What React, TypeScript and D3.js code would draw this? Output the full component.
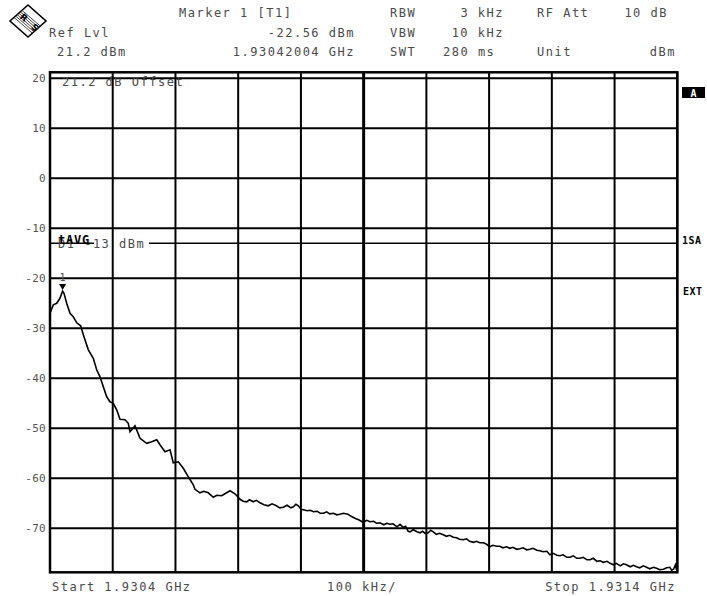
import React from "react";
import * as d3 from "d3";

// ---- data ----
const startGHz = 1.9304;
const stopGHz = 1.9314;
const spanKHz = 1000;
const refLevel = 21.2;
const bottomLevel = -78.8;
const xGridKHz = [0, 100, 200, 300, 400, 500, 600, 700, 800, 900, 1000];
const yTicks = [20, 10, 0, -10, -20, -30, -40, -50, -60, -70];
const displayLine = -13;
const marker = { kHz: 20.04, dbm: -22.56 };

// trace: frequency offset from start (kHz) and level (dBm)
const traceKHz = [
  0, 5.3, 10.7, 15.9, 20.04, 22.3, 26.6, 31.9, 37.1, 42.6, 48.9, 53.1, 61.1, 69.0, 74.4, 79.7,
  85.0, 90.4, 95.6, 100.9, 106.3, 111.6, 119.6, 124.8, 127.5, 135.5, 143.5, 154.1, 162.1, 170.1,
  175.3, 183.3, 191.3, 196.5, 204.5, 212.5, 220.5, 228.4, 231.1, 239.1, 245, 252.3, 260.3, 266,
  273.7, 279.0, 286.9, 294.9, 302.9, 308, 313.6, 318, 324, 329, 334.8, 341, 348, 354, 361, 366,
  372, 378, 384, 388, 392, 396, 400, 404, 410, 415, 420, 426, 431, 436, 441, 446, 452, 457, 462,
  468, 475, 480, 486, 492, 499, 505, 510, 516, 521, 526, 532, 537, 542, 547, 553, 558, 563, 567,
  571, 574, 579, 585, 590, 594, 598, 603, 607, 611, 616, 621, 627, 632, 637, 643, 648, 653, 659,
  664, 669, 675, 680, 685, 691, 696, 701, 706, 712, 717, 722, 728, 733, 738, 744, 749, 754, 760,
  765, 770, 776, 781, 786, 792, 797, 802, 808, 813, 818, 824, 829, 834, 840, 845, 850, 856, 861,
  866, 872, 877, 882, 888, 893, 898, 903, 909, 914, 919, 925, 930, 935, 940, 946, 951, 956, 962,
  967, 972, 978, 983, 988, 991, 994, 997, 999, 1000,
];
const traceDbm = [
  -27.0, -25.3, -25.0, -24.0, -22.56, -23.0, -25.0, -27.0, -27.7, -28.9, -29.5, -31.3, -34.3, -36.0, -38.3, -39.7,
  -41.7, -43.7, -44.7, -45.0, -46.3, -48.2, -48.3, -49.0, -50.7, -49.5, -52.0, -53.0, -52.7, -52.3,
  -53.3, -54.7, -54.3, -56.9, -56.7, -58.0, -59.7, -61.3, -62.2, -62.9, -62.6, -62.9, -63.8, -63.4,
  -63.5, -63.1, -62.5, -63.1, -64.2, -64.6, -64.7, -64.3, -64.7, -64.4, -64.9, -65.3, -65.5, -65.1, -65.5, -65.9,
  -65.8, -65.4, -65.9, -65.7, -65.2, -65.5, -66.2, -66.3, -66.5, -66.4, -66.7, -66.6, -67.0, -67.0, -66.7, -67.1, -67.0, -67.3, -67.2,
  -67.0, -67.2, -67.6, -68.0, -68.3, -68.8, -68.4, -68.7, -68.6, -69.0, -68.9, -69.3, -69.0, -69.2, -69.1, -69.7, -69.2, -69.8, -69.6,
  -70.6, -70.7, -70.3, -70.7, -70.9, -70.6, -71.0, -70.9, -70.4, -70.7, -71.2, -71.0, -71.3, -71.6, -71.4, -71.8, -71.9, -72.2, -72.3,
  -72.1, -72.6, -72.8, -72.6, -72.9, -72.9, -73.2, -73.7, -73.4, -73.6, -73.6, -73.9, -73.7, -74.0, -73.8, -74.2, -74.1, -73.9, -74.3,
  -74.2, -74.0, -74.4, -74.5, -74.7, -74.6, -75.3, -75.0, -75.4, -75.5, -75.3, -75.8, -75.8, -75.5, -76.0, -76.0, -75.8, -76.3, -76.3,
  -76.0, -76.6, -76.5, -76.8, -76.6, -77.0, -77.3, -77.0, -77.5, -77.1, -77.3, -77.7, -77.4, -77.7, -77.9, -77.5, -77.8, -78.1, -77.8,
  -78.0, -78.3, -78.2, -77.9, -77.8, -78.4, -78.2, -77.3, -78.4, -78.3,
];

const mono = "'DejaVu Sans Mono', 'Liberation Mono', monospace";
const txt = "#4a4a4a";

function Label(props: any) {
  const { x, y, children, anchor = "start", size = 12, ls = 1.5, fill = txt, weight = "normal" } = props;
  return (
    <text
      x={x}
      y={y}
      textAnchor={anchor}
      fontFamily={mono}
      fontSize={size}
      letterSpacing={ls}
      fill={fill}
      fontWeight={weight}
    >
      {children}
    </text>
  );
}

export default function App() {
  const x = d3.scaleLinear().domain([0, spanKHz]).range([50, 677.3]);
  const y = d3.scaleLinear().domain([bottomLevel, refLevel]).range([572.3, 72.3]);
  const pts: [number, number][] = traceKHz.map((f, i) => [f, traceDbm[i]]);
  const line = d3
    .line<[number, number]>()
    .x((d) => x(d[0]))
    .y((d) => y(d[1]));

  const mx = x(marker.kHz);
  const my = y(marker.dbm);
  const dy = y(displayLine);

  return (
    <svg
      width={707}
      height={596}
      style={{ position: "absolute", left: 0, top: 0, background: "#fff" }}
    >
      <rect x={0} y={0} width={707} height={596} fill="#fff" />
      {/* R&S logo */}
      <g>
        <polygon points="28,5 46,21 28,37 10,21" fill="#fff" stroke="#000" strokeWidth={1.6} />
        <clipPath id="dia">
          <polygon points="28,5 46,21 28,37 10,21" />
        </clipPath>
        <g clipPath="url(#dia)">
          {[-4, -2.5, -1, 0.5, 2, 3.5].map((o, i) => (
            <line key={i} x1={14 + o} y1={10 - o} x2={42 + o} y2={34 - o} stroke="#333" strokeWidth={0.9} />
          ))}
        </g>
        <text x={22} y={20} fontFamily="'DejaVu Sans', sans-serif" fontSize={9} fontWeight="bold" transform="rotate(40 22 20)" textAnchor="middle">R</text>
        <text x={33} y={30} fontFamily="'DejaVu Sans', sans-serif" fontSize={9} fontWeight="bold" transform="rotate(40 33 30)" textAnchor="middle">S</text>
      </g>

      {/* header */}
      <Label x={179} y={17}>Marker 1 [T1]</Label>
      <Label x={49} y={37}>Ref Lvl</Label>
      <Label x={355} y={37} anchor="end">-22.56 dBm</Label>
      <Label x={57} y={56}>21.2 dBm</Label>
      <Label x={355} y={56} anchor="end">1.93042004 GHz</Label>
      <Label x={390} y={17}>RBW</Label>
      <Label x={504} y={17} anchor="end">3 kHz</Label>
      <Label x={537} y={17}>RF Att</Label>
      <Label x={668} y={17} anchor="end">10 dB</Label>
      <Label x={390} y={37}>VBW</Label>
      <Label x={504} y={37} anchor="end">10 kHz</Label>
      <Label x={390} y={56}>SWT</Label>
      <Label x={443} y={56}>280 ms</Label>
      <Label x={537} y={56}>Unit</Label>
      <Label x={676} y={56} anchor="end">dBm</Label>

      {/* grid */}
      {yTicks.map((t) => (
        <line key={"h" + t} x1={x(0)} x2={x(spanKHz)} y1={y(t)} y2={y(t)} stroke="#000" strokeWidth={2} />
      ))}
      {xGridKHz.map((f) => (
        <line
          key={"v" + f}
          x1={x(f)}
          x2={x(f)}
          y1={y(refLevel)}
          y2={y(bottomLevel)}
          stroke="#000"
          strokeWidth={f === 500 ? 3 : 2}
        />
      ))}
      <rect
        x={x(0)}
        y={y(refLevel)}
        width={x(spanKHz) - x(0)}
        height={y(bottomLevel) - y(refLevel)}
        fill="none"
        stroke="#000"
        strokeWidth={2.5}
      />

      {/* y tick labels */}
      {yTicks.map((t) => (
        <text
          key={"yl" + t}
          x={46}
          y={y(t) + 4}
          textAnchor="end"
          fontFamily={mono}
          fontSize={11}
          letterSpacing={0.3}
          fill="#555"
        >
          {t}
        </text>
      ))}

      {/* offset label */}
      <Label x={62} y={86}>21.2 dB Offset</Label>

      {/* display line */}
      <line x1={x(0)} x2={94} y1={dy} y2={dy} stroke="#000" strokeWidth={1.5} />
      <line x1={149} x2={x(spanKHz)} y1={dy} y2={dy} stroke="#000" strokeWidth={1.5} />
      <Label x={58} y={247.5}>D1 -13 dBm</Label>
      <Label x={58} y={243.5} fill="#000" weight="bold" ls={0.8}>tAVG</Label>

      {/* trace */}
      <path d={line(pts) || ""} fill="none" stroke="#000" strokeWidth={1.6} strokeLinejoin="miter" />

      {/* marker */}
      <path d={`M${mx - 3.5},${my - 7} L${mx + 3.5},${my - 7} L${mx},${my - 1} Z`} fill="#000" />
      <text x={mx} y={my - 10} textAnchor="middle" fontFamily={mono} fontSize={10} fill="#555">1</text>

      {/* right side annotations */}
      <rect x={682} y={87} width={23} height={11} fill="#000" />
      <text x={693.5} y={96.5} textAnchor="middle" fontFamily={mono} fontSize={10} fontWeight="bold" fill="#fff">A</text>
      <Label x={682} y={244} fill="#000" weight="bold" size={10} ls={0.5}>1SA</Label>
      <Label x={683} y={295} fill="#000" weight="bold" size={10} ls={0.5}>EXT</Label>

      {/* bottom */}
      <Label x={52} y={591}>Start 1.9304 GHz</Label>
      <Label x={362} y={591} anchor="middle">100 kHz/</Label>
      <Label x={676} y={591} anchor="end">Stop 1.9314 GHz</Label>
    </svg>
  );
}
